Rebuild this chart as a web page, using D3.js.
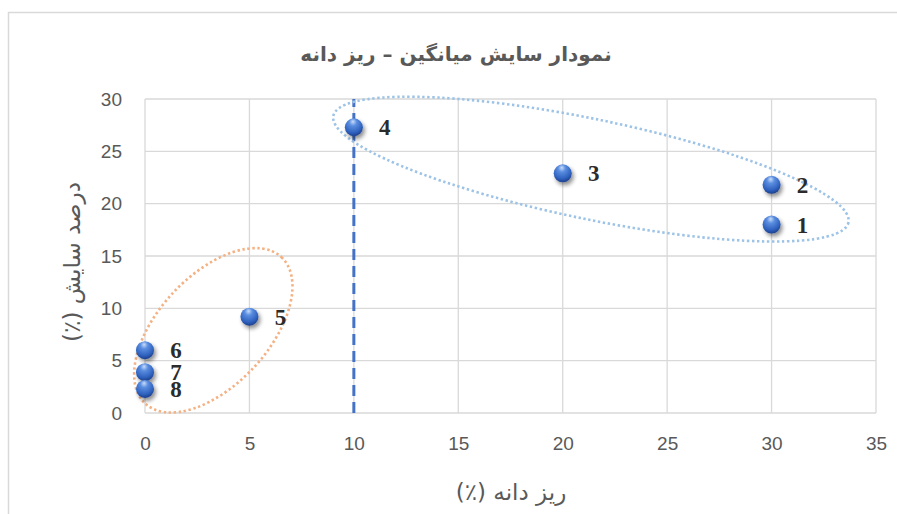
<!DOCTYPE html>
<html>
<head>
<meta charset="utf-8">
<script src="https://cdn.jsdelivr.net/npm/d3@7"></script>
<style>
  html, body { margin: 0; padding: 0; background: #fff; }
  svg { display: block; }
</style>
</head>
<body>
<svg id="chart" width="897" height="514"></svg>
<script>
// Sample numbers and their coordinates (fine grain % vs. mean wear %)
const sampleIds   = ["1", "2", "3", "4", "5", "6", "7", "8"];
const fineGrain   = [30, 30, 20, 10, 5, 0, 0, 0];
const wearPercent = [18, 21.8, 22.9, 27.3, 9.2, 6, 3.9, 2.3];

const xTicks = [0, 5, 10, 15, 20, 25, 30, 35];
const yTicks = [0, 5, 10, 15, 20, 25, 30];

const thresholdX = 10;

const titleText = "نمودار سایش میانگین – ریز دانه";
const xAxisText = "ریز دانه (٪)";
const yAxisText = "درصد سایش (٪)";

const svg = d3.select("#chart");
const plot = { left: 145, right: 876, top: 99, bottom: 413 };

const x = d3.scaleLinear().domain([0, 35]).range([plot.left, plot.right]);
const y = d3.scaleLinear().domain([0, 30]).range([plot.bottom, plot.top]);

// outer chart frame
svg.append("rect")
  .attr("x", 8.5).attr("y", 12.5)
  .attr("width", 1000).attr("height", 1000)
  .attr("fill", "#fff").attr("stroke", "#d9d9d9").attr("stroke-width", 1.5);

// defs: sphere gradient and soft shadow
const defs = svg.append("defs");
const grad = defs.append("radialGradient").attr("id", "sphere")
  .attr("cx", "45%").attr("cy", "30%").attr("r", "70%").attr("fx", "45%").attr("fy", "18%");
grad.append("stop").attr("offset", "0%").attr("stop-color", "#c9dcfa");
grad.append("stop").attr("offset", "30%").attr("stop-color", "#5b8ee0");
grad.append("stop").attr("offset", "75%").attr("stop-color", "#2f62bf");
grad.append("stop").attr("offset", "100%").attr("stop-color", "#1c3f8c");

const shadow = defs.append("filter").attr("id", "shadow")
  .attr("x", "-60%").attr("y", "-60%").attr("width", "220%").attr("height", "220%");
shadow.append("feGaussianBlur").attr("in", "SourceAlpha").attr("stdDeviation", 2.2).attr("result", "b");
shadow.append("feOffset").attr("in", "b").attr("dx", 1.5).attr("dy", 3).attr("result", "o");
shadow.append("feComponentTransfer").attr("in", "o").attr("result", "s")
  .append("feFuncA").attr("type", "linear").attr("slope", 0.45);
const merge = shadow.append("feMerge");
merge.append("feMergeNode").attr("in", "s");
merge.append("feMergeNode").attr("in", "SourceGraphic");

// gridlines
const grid = svg.append("g").attr("stroke", "#d9d9d9").attr("stroke-width", 1.3);
grid.selectAll("line.h").data(yTicks).join("line")
  .attr("x1", plot.left).attr("x2", plot.right)
  .attr("y1", d => y(d)).attr("y2", d => y(d));
grid.selectAll("line.v").data(xTicks).join("line")
  .attr("y1", plot.top).attr("y2", plot.bottom)
  .attr("x1", d => x(d)).attr("x2", d => x(d));

// axes (labels only; lines come from the grid)
const tickFont = "'Liberation Sans', Arial, sans-serif";
const xAxis = svg.append("g").attr("transform", `translate(0,${plot.bottom})`)
  .call(d3.axisBottom(x).tickValues(xTicks).tickSize(0).tickPadding(24));
const yAxis = svg.append("g").attr("transform", `translate(${plot.left},0)`)
  .call(d3.axisLeft(y).tickValues(yTicks).tickSize(0).tickPadding(23));
[xAxis, yAxis].forEach(g => {
  g.select(".domain").remove();
  g.selectAll("text").attr("fill", "#595959")
    .style("font-family", tickFont).style("font-size", "19px");
});

// threshold line at 10 % fine grain
svg.append("line")
  .attr("x1", x(thresholdX)).attr("x2", x(thresholdX))
  .attr("y1", y(0)).attr("y2", y(30))
  .attr("stroke", "#4472c4").attr("stroke-width", 3)
  .attr("stroke-dasharray", "11,6");

// grouping ellipses (centre in data units, radii in px, rotation in degrees)
const groups = [
  { cx: 21.35, cy: 23.3, rx: 263, ry: 50, angle: 11.7, color: "#9dc3e6" },
  { cx: 3.27,  cy: 7.9,  rx: 100, ry: 55, angle: -47, color: "#f4b183" }
];
svg.append("g").selectAll("ellipse").data(groups).join("ellipse")
  .attr("transform", d => `translate(${x(d.cx)},${y(d.cy)}) rotate(${d.angle})`)
  .attr("rx", d => d.rx).attr("ry", d => d.ry)
  .attr("fill", "none").attr("stroke", d => d.color)
  .attr("stroke-width", 2.6).attr("stroke-dasharray", "2.4,2.6");

// points
const points = sampleIds.map((id, i) => ({ id, xv: fineGrain[i], yv: wearPercent[i] }));
svg.append("g").selectAll("circle").data(points).join("circle")
  .attr("cx", d => x(d.xv)).attr("cy", d => y(d.yv)).attr("r", 9)
  .attr("fill", "url(#sphere)").attr("filter", "url(#shadow)");

// sample numbers
svg.append("g").selectAll("text").data(points).join("text")
  .attr("x", d => x(d.xv) + 31).attr("y", d => y(d.yv) + 8)
  .attr("text-anchor", "middle")
  .attr("fill", "#2b2b2b")
  .style("font-family", "'Liberation Serif', 'Times New Roman', serif")
  .style("font-weight", "bold").style("font-size", "23px")
  .text(d => d.id);

// title and axis titles
const faFont = "'DejaVu Sans', 'Noto Sans', sans-serif";
svg.append("text")
  .attr("x", 456).attr("y", 61).attr("text-anchor", "middle")
  .attr("fill", "#595959").style("font-family", faFont)
  .style("font-weight", "bold").style("font-size", "20px")
  .attr("direction", "rtl").attr("unicode-bidi", "embed")
  .text(titleText);

svg.append("text")
  .attr("x", 511).attr("y", 500).attr("text-anchor", "middle")
  .attr("fill", "#595959").style("font-family", faFont).style("font-size", "23px")
  .attr("direction", "rtl")
  .text(xAxisText);

svg.append("text")
  .attr("transform", "translate(80,262) rotate(-90)")
  .attr("text-anchor", "middle")
  .attr("fill", "#595959").style("font-family", faFont).style("font-size", "23px")
  .attr("direction", "rtl")
  .text(yAxisText);
</script>
</body>
</html>
